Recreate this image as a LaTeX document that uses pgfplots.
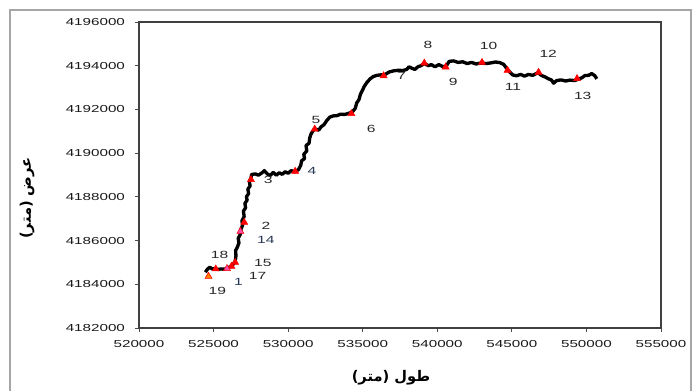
\documentclass[border=0pt]{standalone}
\usepackage{fontspec}
\setmainfont{Liberation Sans}[FakeStretch=1.5]
\newfontfamily\arabicfont[Script=Arabic]{DejaVu Sans}
\TeXXeTstate=1
\usepackage{pgfplots}
\pgfplotsset{compat=1.18}
\definecolor{lblblue}{RGB}{40,55,85}
\begin{document}
\begin{tikzpicture}
\useasboundingbox (-104.25pt,-47.25pt) rectangle (415.5pt,246pt);
\draw[gray!70,line width=1pt] (-96.75pt,-50pt) -- (-96.75pt,238.5pt) -- (414pt,238.5pt) -- (414pt,-50pt);
\begin{axis}[
  scale only axis, width=391.5pt, height=229.5pt,
  xmin=520000, xmax=555000, ymin=4182000, ymax=4196000,
  xtick={520000,525000,...,555000},
  ytick={4182000,4184000,...,4196000},
  scaled ticks=false,
  /pgf/number format/assume math mode=true,
  xticklabel={\pgfmathprintnumber[fixed,1000 sep={},precision=0]{\tick}},
  yticklabel={\pgfmathprintnumber[fixed,1000 sep={},precision=0]{\tick}},
  ticklabel style={font=\fontsize{7.6}{8}\selectfont, text=black!90},
  tick align=outside, major tick length=3pt,
  tick style={black!70, line width=0.6pt},
  axis line style={black!75, line width=0.8pt},
  x tick label style={yshift=-3pt},
  y tick label style={xshift=-4pt},
  xtick pos=bottom, ytick pos=left,
  clip=false,
]
\addplot[black, line width=2.5pt, line join=round] coordinates {
(524450,4184550)(524600,4184700)(524750,4184780)(524900,4184700)(525100,4184720)
(525300,4184680)(525500,4184700)(525700,4184690)(525900,4184720)(526100,4184800)
(526300,4184900)(526450,4185050)(526500,4185300)(526480,4185550)(526600,4185700)
(526700,4185900)(526650,4186100)(526800,4186300)(526850,4186550)(526950,4186700)
(526900,4186900)(527050,4187100)(527000,4187350)(527150,4187500)(527100,4187700)
(527250,4187850)(527200,4188000)(527350,4188150)(527300,4188350)(527450,4188500)
(527400,4188700)(527500,4188850)(527550,4189020)(527800,4189050)(528000,4188990)
(528250,4189100)(528400,4189200)(528600,4189050)(528800,4188980)(529000,4189120)
(529200,4188990)(529400,4189100)(529600,4189030)(529800,4189150)(530000,4189080)
(530200,4189200)(530450,4189150)(530700,4189250)(530850,4189450)(530900,4189650)
(531100,4189750)(531050,4189950)(531250,4190100)(531200,4190350)(531400,4190450)
(531450,4190700)(531550,4190900)(531700,4191050)(531850,4191100)(532050,4191050)
(532200,4191200)(532400,4191300)(532600,4191500)(532800,4191650)(533000,4191700)
(533300,4191720)(533500,4191780)(533800,4191770)(534100,4191830)(534300,4191880)
(534500,4192050)(534600,4192300)(534750,4192450)(534850,4192700)(535000,4192900)
(535100,4193050)(535300,4193250)(535500,4193400)(535700,4193500)(535950,4193560)
(536200,4193580)(536500,4193600)(536800,4193720)(537100,4193770)(537400,4193790)
(537700,4193780)(537950,4193830)(538100,4193950)(538300,4193880)(538500,4193830)
(538700,4193950)(538900,4194000)(539130,4194100)(539400,4194000)(539600,4194050)
(539850,4193950)(540100,4194050)(540400,4193950)(540600,4193980)(540800,4194200)
(541100,4194220)(541400,4194150)(541700,4194180)(542000,4194100)(542300,4194150)
(542600,4194080)(542900,4194120)(543300,4194100)(543600,4194130)(543900,4194170)
(544200,4194140)(544450,4194060)(544650,4193880)(544850,4193720)(545050,4193580)
(545300,4193540)(545600,4193600)(545850,4193520)(546100,4193600)(546400,4193560)
(546750,4193680)(547000,4193550)(547250,4193480)(547450,4193400)(547650,4193350)
(547800,4193200)(548000,4193320)(548300,4193350)(548600,4193300)(548900,4193340)
(549200,4193320)(549450,4193380)(549700,4193450)(549900,4193550)(550150,4193560)
(550350,4193640)(550550,4193550)(550700,4193400)
};
\addplot[only marks, mark=triangle*, mark size=3pt, red, mark options={draw=red,fill=red}] coordinates {
(525150,4184700)(526200,4184820)(526450,4185000)(527060,4186830)
(527505,4188790)(530470,4189170)(531780,4191100)(534240,4191810)
(536400,4193540)(539130,4194120)(540560,4193940)(543000,4194150)
(544710,4193790)(546790,4193700)(549370,4193410)
};
\addplot[only marks, mark=triangle*, mark size=3pt, mark options={draw=red,fill=magenta!70}] coordinates {
(525900,4184720)(526800,4186420)
};
\addplot[only marks, mark=triangle*, mark size=3pt, mark options={draw=red,fill=orange}] coordinates {
(524660,4184365)
};
\begin{scope}[every node/.style={font=\fontsize{7.8}{8}\selectfont, text=black!85}]
\node at (axis cs:539370,4194960) {8};
\node at (axis cs:543440,4194890) {10};
\node at (axis cs:547440,4194550) {12};
\node at (axis cs:537590,4193510) {7};
\node at (axis cs:541060,4193240) {9};
\node at (axis cs:545070,4193030) {11};
\node at (axis cs:549750,4192600) {13};
\node at (axis cs:535570,4191100) {6};
\node at (axis cs:531870,4191500) {5};
\node[text=lblblue] at (axis cs:531600,4189170) {4};
\node at (axis cs:528660,4188760) {3};
\node at (axis cs:528510,4186680) {2};
\node[text=lblblue] at (axis cs:528510,4186010) {14};
\node at (axis cs:525400,4185350) {18};
\node at (axis cs:528300,4184970) {15};
\node at (axis cs:527950,4184360) {17};
\node[text=lblblue] at (axis cs:526675,4184090) {1};
\node at (axis cs:525250,4183680) {19};
\end{scope}
\end{axis}
\node[font=\arabicfont\bfseries\fontsize{11}{12}\selectfont] at (189pt,-37.5pt) {\beginR طول (متر)\endR};
\node[font=\arabicfont\bfseries\fontsize{11}{12}\selectfont, rotate=90] at (-84pt,97.5pt) {\beginR عرض (متر)\endR};
\end{tikzpicture}
\end{document}
